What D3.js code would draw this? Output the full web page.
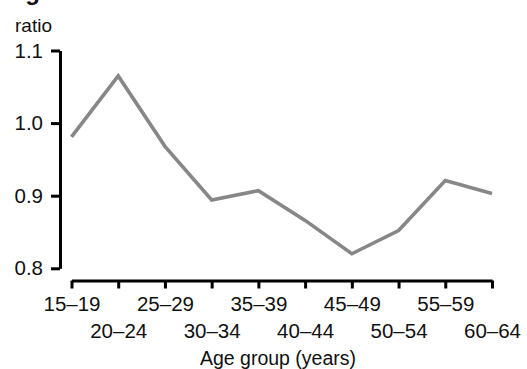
<!DOCTYPE html>
<html>
<head>
<meta charset="utf-8">
<script src="https://cdn.jsdelivr.net/npm/d3@7"></script>
<style>
  html, body { margin: 0; padding: 0; background: #fff; }
  svg { display: block; }
  text { font-family: "Liberation Sans", Arial, sans-serif; fill: #111; }
</style>
</head>
<body>
<div id="chart"></div>
<script>
const categories = ["15–19", "20–24", "25–29", "30–34", "35–39", "40–44", "45–49", "50–54", "55–59", "60–64"];
const ratioValues = [0.981, 1.065, 0.968, 0.894, 0.907, 0.866, 0.820, 0.852, 0.921, 0.903];
const yTicks = [0.8, 0.9, 1.0, 1.1];
const titleText = "Figure";
const yLabel = "ratio";
const xLabel = "Age group (years)";

const W = 527, H = 369;
const svg = d3.select("#chart").append("svg").attr("width", W).attr("height", H);

const x = d3.scalePoint().domain(categories).range([71.5, 492]).padding(0);
const y = d3.scaleLinear().domain([0.8, 1.1]).range([268.3, 50.5]);

// title, cut off at the top edge as in the reference
svg.append("text").attr("x", 4).attr("y", 0)
  .attr("font-size", 24).attr("font-weight", "bold").text(titleText);

svg.append("text").attr("x", 15).attr("y", 32)
  .attr("font-size", 19).text(yLabel);

// y axis
const yAxis = svg.append("g").attr("transform", "translate(60,0)")
  .call(d3.axisLeft(y).tickValues(yTicks).tickFormat(d3.format(".1f")).tickSize(9).tickSizeOuter(0).tickPadding(8));
yAxis.selectAll("path,line").attr("stroke", "#000").attr("stroke-width", 3);
yAxis.selectAll("text").attr("font-size", 20.5).attr("fill", "#111")
  .style("font-family", '"Liberation Sans", Arial, sans-serif');

// x axis
const xAxis = svg.append("g").attr("transform", "translate(0,280.5)")
  .call(d3.axisBottom(x).tickSize(8).tickSizeOuter(0));
xAxis.selectAll("path,line").attr("stroke", "#000").attr("stroke-width", 3);
xAxis.selectAll(".tick text")
  .attr("font-size", 20.5).attr("fill", "#111")
  .style("font-family", '"Liberation Sans", Arial, sans-serif')
  .attr("dy", 0)
  .attr("y", (d, i) => (i % 2 === 0 ? 30 : 57));

svg.append("text").attr("x", 278).attr("y", 365)
  .attr("text-anchor", "middle").attr("font-size", 19.5).text(xLabel);

// line
const line = d3.line().x((d, i) => x(categories[i])).y(d => y(d));
svg.append("path").datum(ratioValues)
  .attr("fill", "none").attr("stroke", "#878787").attr("stroke-width", 3.6)
  .attr("stroke-linejoin", "miter")
  .attr("d", line);
</script>
</body>
</html>
